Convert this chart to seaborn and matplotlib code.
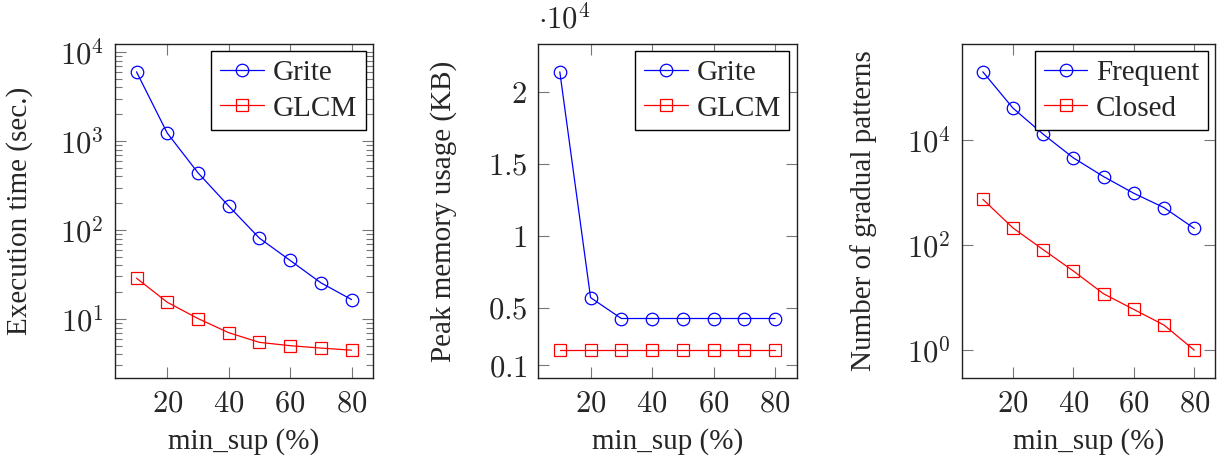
import numpy as np
import pandas as pd

import matplotlib
matplotlib.use('Agg')
import matplotlib.pyplot as plt
import seaborn as sns
from matplotlib.ticker import FixedLocator, FuncFormatter, LogLocator, NullLocator


min_sup = [10, 20, 30, 40, 50, 60, 70, 80]

# execution time (sec.)
time_grite = [6000, 1230, 440, 186, 81, 45.5, 25.5, 16.5]
time_glcm = [28.7, 15.4, 10.1, 7.0, 5.45, 5.0, 4.7, 4.45]

# peak memory usage (KB)
mem_grite = [21370, 5690, 4240, 4240, 4240, 4240, 4240, 4240]
mem_glcm = [2040, 2040, 2040, 2040, 2040, 2040, 2040, 2040]

# number of gradual patterns
pat_frequent = [197000, 40100, 12800, 4540, 2000, 964, 514, 207]
pat_closed = [741, 211, 81.5, 32, 11.8, 5.95, 3.0, 1]

x_ticks = [20, 40, 60, 80]

FS = 21
TS = 22


def enlarge(lo, hi, log=False, f=0.1):
    if log:
        a, b = np.log10(lo), np.log10(hi)
        d = (b - a) * f
        return 10 ** (a - d), 10 ** (b + d)
    d = (hi - lo) * f
    return lo - d, hi + d


def panel(ax, y1, y2, lab1, lab2, log):
    sns.lineplot(x=min_sup, y=y1, ax=ax, color='blue', lw=0.9, marker='o', ms=9,
                 mfc='none', mec='blue', mew=0.9, label=lab1)
    sns.lineplot(x=min_sup, y=y2, ax=ax, color='red', lw=0.9, marker='s', ms=8,
                 mfc='none', mec='red', mew=0.9, label=lab2)
    if log:
        ax.set_yscale('log')
    allv = list(y1) + list(y2)
    ax.set_ylim(*enlarge(min(allv), max(allv), log))
    ax.set_xlim(*enlarge(min(min_sup), max(min_sup)))
    ax.xaxis.set_major_locator(FixedLocator(x_ticks))
    ax.xaxis.set_major_formatter(FuncFormatter(lambda v, p: f'${int(v)}$'))
    ax.xaxis.set_minor_locator(NullLocator())
    ax.tick_params(which='both', direction='in', top=True, right=True,
                   color='#777777', width=0.8, labelsize=TS, pad=8)
    ax.tick_params(which='major', length=8)
    ax.tick_params(which='minor', length=5)
    for s in ax.spines.values():
        s.set_linewidth(1.0)
        s.set_color('#222222')
    ax.set_xlabel('min_sup (%)', fontsize=FS)
    ax.xaxis.set_label_coords(0.5, -0.15)
    leg = ax.legend(loc='upper right', fontsize=FS, borderaxespad=0.25, fancybox=False,
                    framealpha=1, edgecolor='black', handlelength=1.5, handletextpad=0.3,
                    borderpad=0.3, labelspacing=0.3)
    leg.get_frame().set_linewidth(1.0)


sns.set_theme(style='ticks')
plt.rcParams['font.family'] = ['Liberation Serif', 'DejaVu Serif']
plt.rcParams['mathtext.fontset'] = 'cm'

fig = plt.figure(figsize=(12.17, 4.55), dpi=100)
ax1 = fig.add_axes([0.0945, 0.1692, 0.212, 0.7341])
ax2 = fig.add_axes([0.4423, 0.1692, 0.2123, 0.7341])
ax3 = fig.add_axes([0.7902, 0.1692, 0.2085, 0.7341])

log_fmt = FuncFormatter(lambda v, p: f'$10^{{{int(round(np.log10(v)))}}}$')

panel(ax1, time_grite, time_glcm, 'Grite', 'GLCM', True)
ax1.yaxis.set_major_locator(FixedLocator([10, 100, 1000, 10000]))
ax1.yaxis.set_minor_locator(LogLocator(base=10, subs=np.arange(2, 10)))
ax1.yaxis.set_major_formatter(log_fmt)
ax1.set_ylabel('Execution time (sec.)', fontsize=FS)
ax1.yaxis.set_label_coords(-0.318, 0.5)

panel(ax2, mem_grite, mem_glcm, 'Grite', 'GLCM', False)
ax2.yaxis.set_major_locator(FixedLocator([1000, 5000, 10000, 15000, 20000]))
ax2.yaxis.set_major_formatter(FuncFormatter(lambda v, p: f'${v / 1e4:g}$'))
ax2.yaxis.set_minor_locator(NullLocator())
ax2.set_ylabel('Peak memory usage (KB)', fontsize=FS)
ax2.yaxis.set_label_coords(-0.316, 0.5)
ax2.text(0.0, 1.025, r'$\cdot 10^4$', transform=ax2.transAxes, ha='left', va='bottom',
         fontsize=TS)

panel(ax3, pat_frequent, pat_closed, 'Frequent', 'Closed', True)
ax3.yaxis.set_major_locator(FixedLocator([1, 100, 10000]))
ax3.yaxis.set_minor_locator(NullLocator())
ax3.yaxis.set_major_formatter(log_fmt)
ax3.set_ylabel('Number of gradual patterns', fontsize=FS)
ax3.yaxis.set_label_coords(-0.335, 0.5)

fig.savefig('out.png', dpi=100)
